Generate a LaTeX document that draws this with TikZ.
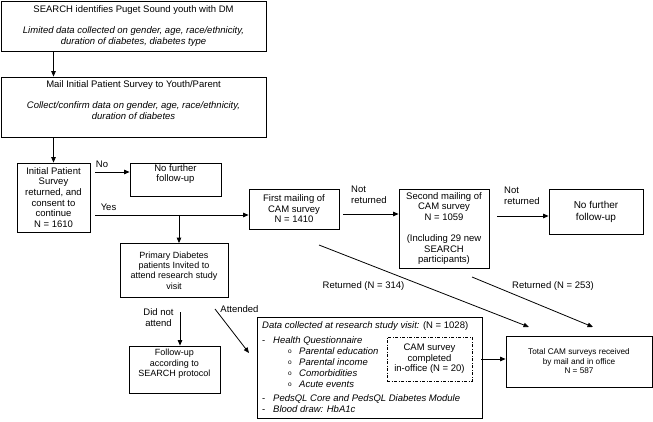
\documentclass[tikz,border=0pt]{standalone}
\usepackage{fontspec}
\setmainfont{Liberation Sans}
\usetikzlibrary{arrows.meta}
\newcommand\figfs{\fontsize{9.5}{10.6}\selectfont}
\newcommand\figdt{\fontsize{9.5}{10.9}\selectfont}
\newcommand\figsm{\fontsize{9}{10.2}\selectfont}
\newcommand\figxs{\fontsize{8.2}{9.5}\selectfont}
\newcommand\figbul{\makebox[11pt][l]{\raisebox{0.5pt}{\fontsize{6.5}{6.5}\selectfont o}}}
\newcommand\figdash{\makebox[11pt][l]{-}}
\begin{document}
\begin{tikzpicture}[x=1pt,y=-1pt,
  box/.style={draw, line width=0.8pt, align=center, inner sep=0pt, font=\figfs},
  lbl/.style={inner sep=0pt, font=\figfs, align=left},
  arr/.style={line width=0.8pt, -{Triangle[length=5.5pt,width=4.5pt]}},
  dashdot box/.style={draw, line width=0.6pt, dash pattern=on 3pt off 1.5pt on 1pt off 1.5pt, align=center, inner sep=0pt, font=\figfs},
]
\useasboundingbox (0,0) rectangle (653,422);

% boxes
\node[box, minimum width=265pt, minimum height=50pt] (search) at (133.5,26)
  {SEARCH identifies Puget Sound youth with DM\\[10.6pt]
   \textit{Limited data collected on gender, age, race/ethnicity,}\\
   \textit{duration of diabetes, diabetes type}};
\node[box, minimum width=265pt, minimum height=60pt] (mail) at (133.5,107)
  {Mail Initial Patient Survey to Youth/Parent\\[10.6pt]
   \textit{Collect/confirm data on gender, age, race/ethnicity,}\\
   \textit{duration of diabetes}\\\strut};
\node[box, minimum width=73pt, minimum height=69pt] (init) at (53.5,197.5)
  {Initial Patient\\Survey\\returned, and\\consent to\\continue\\N = 1610};
\node[box, minimum width=91pt, minimum height=33pt] (nofu1) at (175.5,179.5)
  {No further\\follow-up\\[2pt]};
\node[box, minimum width=90pt, minimum height=40pt] (first) at (294,209)
  {First mailing of\\CAM survey\\N = 1410};
\node[box, minimum width=90pt, minimum height=79pt] (second) at (444,228.5)
  {Second mailing of\\CAM survey\\N = 1059\\[10.6pt](Including 29 new\\SEARCH\\participants)};
\node[box, minimum width=94pt, minimum height=45pt, font=\fontsize{10}{12}\selectfont] (nofu2) at (596,211.5)
  {No further\\follow-up};
\node[box, minimum width=108pt, minimum height=54pt, font=\figsm] (prim) at (174,270.5)
  {Primary Diabetes\\patients Invited to\\attend research study\\visit};
\node[box, minimum width=91pt, minimum height=47pt, font=\figsm] (fu) at (174.5,369.5)
  {Follow-up\\according to\\SEARCH protocol\\[3pt]};
\node[box, minimum width=225pt, minimum height=101pt] (data) at (369.5,367.5) {};
\node[lbl, anchor=north west, font=\figdt] (datatext) at (262,321)
  {\textit{Data collected at research study visit:} (N = 1028)\\[4.5pt]
   \figdash\textit{Health Questionnaire}\\
   \hspace{26pt}\figbul\textit{Parental education}\\
   \hspace{26pt}\figbul\textit{Parental income}\\
   \hspace{26pt}\figbul\textit{Comorbidities}\\
   \hspace{26pt}\figbul\textit{Acute events}\\[3.5pt]
   \figdash\textit{PedsQL Core and PedsQL Diabetes Module}\\
   \figdash\textit{Blood draw: HbA1c}};
\node[dashdot box, minimum width=85pt, minimum height=44pt] (cam) at (429.5,359)
  {CAM survey\\completed\\in-office (N = 20)};
\node[box, minimum width=146pt, minimum height=51pt, font=\figxs] (total) at (579,361.5)
  {Total CAM surveys received\\by mail and in office\\N = 587};

% connectors
\draw[arr] (init.north |- search.south) -- (init.north |- mail.north);
\draw[arr] (init.north |- mail.south) -- (init.north);

\coordinate (noS) at (95,172);
\draw[arr] (noS) -- (noS -| nofu1.west);
\coordinate (yesS) at (95,215);
\draw[arr] (yesS) -- (yesS -| first.west);
\coordinate (br) at (179,215);
\draw[arr] (br) -- (br |- prim.north);

\coordinate (nr1) at (343,214);
\draw[arr] (nr1) -- (nr1 -| second.west);
\coordinate (nr2) at (497,216);
\draw[arr] (nr2) -- (nr2 -| nofu2.west);

\coordinate (r1s) at (319,245);
\coordinate (r1e) at (529,327);
\draw[arr] (r1s) -- (r1e);
\coordinate (r2s) at (472,277);
\coordinate (r2e) at (593,327);
\draw[arr] (r2s) -- (r2e);

\coordinate (dna) at (180,312);
\draw[arr] (dna) -- (dna |- fu.north);
\coordinate (att1) at (215,309);
\coordinate (att2) at (249,353);
\draw[arr] (att1) -- (att2);

\coordinate (ct) at (481,359);
\draw[arr] (ct) -- (ct -| total.west);

% labels
\node[lbl] (lno) at (102,164) {No};
\node[lbl] (lyes) at (108.5,207) {Yes};
\node[lbl, anchor=north west] (lnr1) at (351,186) {Not\\returned};
\node[lbl, anchor=north west] (lnr2) at (504,187) {Not\\returned};
\node[lbl] (lr1) at (363.5,286) {Returned (N = 314)};
\node[lbl] (lr2) at (553,286) {Returned (N = 253)};
\node[lbl, align=center] (ldna) at (158.5,317.5) {Did not\\attend};
\node[lbl] (latt) at (239.5,309) {Attended};
\end{tikzpicture}
\end{document}
